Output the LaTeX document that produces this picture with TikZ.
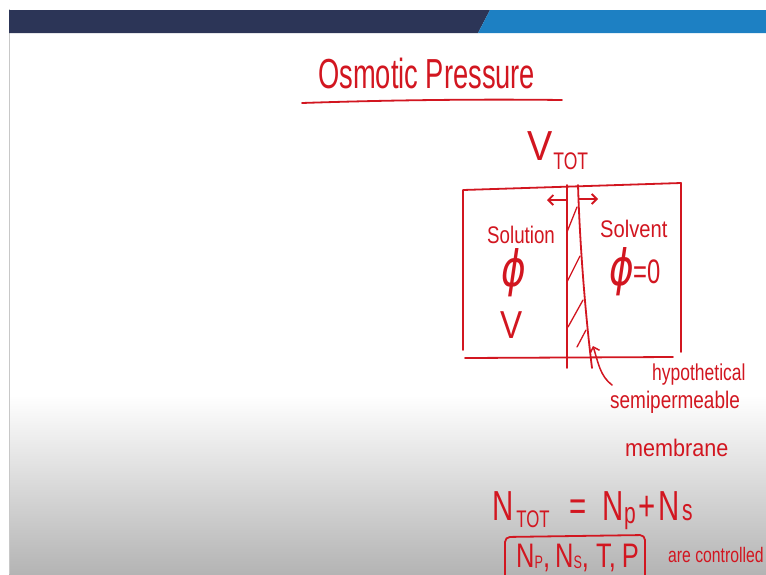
\documentclass[tikz,border=0pt]{standalone}
\usepackage{fontspec}
\setmainfont{Liberation Sans}
\newfontfamily\dvs{DejaVu Sans}
\usepackage{graphicx}
\usetikzlibrary{arrows.meta}
\definecolor{ink}{RGB}{210,22,32}
\definecolor{navy}{RGB}{44,53,87}
\definecolor{barblue}{RGB}{29,128,195}
\definecolor{shadegray}{RGB}{180,180,180}
\definecolor{edgegray}{RGB}{200,200,200}
\newcommand\hwtext[3]{\scalebox{#1}[1]{\fontsize{#2}{#2}\selectfont #3}}
\begin{document}
\begin{tikzpicture}[x=1pt,y=-1pt,
  pen/.style={draw=ink, line width=1.8pt, line cap=round, line join=round},
  lbl/.style={text=ink, inner sep=0pt, anchor=base west},
  barb/.style={-{Straight Barb[length=5pt,width=10pt]}}]
\useasboundingbox (0,0) rectangle (766,574);
\clip (0,0) rectangle (766,574);
% background
\fill[white] (0,0) rectangle (766,574);
\shade[top color=white, bottom color=shadegray] (9,395) rectangle (766,574);
\draw[edgegray, line width=1pt] (9,9) -- (9,574);
\fill[navy] (9,10) -- (490,10) -- (478,33) -- (9,33) -- cycle;
\fill[barblue] (490,10) -- (766,10) -- (766,33) -- (478,33) -- cycle;
% title
\node[lbl] (title) at (318,88) {\hwtext{.65}{42}{Osmotic Pressure}};
\coordinate (ulA) at (302,103);
\coordinate (ulB) at (562,100);
\draw[pen] (ulA) .. controls (390,100) and (480,99) .. (ulB);
% V_TOT
\node[lbl] (vtot) at (527,160) {\hwtext{.9}{42}{V}\hspace{1pt}\raisebox{-9pt}{\hwtext{.73}{24}{TOT}}};
% container
\coordinate (bTL) at (463,190);
\coordinate (bTR) at (681,183);
\coordinate (bBL) at (463,350);
\coordinate (bBR) at (681,352);
\coordinate (fL) at (465,358);
\coordinate (fR) at (673,357);
\draw[pen] (bBL) -- (bTL) -- (bTR) -- (bBR);
\draw[pen] (fL) -- (fR);
% membrane
\coordinate (mLt) at (567,185);
\coordinate (mLb) at (567,368);
\coordinate (mRt) at (578,185);
\coordinate (mRb) at (592,368);
\draw[pen] (mLt) -- (mLb);
\draw[pen] (mRt) .. controls (580,250) and (586,320) .. (mRb);
\draw[pen, line width=1.3pt] (567,232) -- (577,207);
\draw[pen, line width=1.3pt] (567,282) -- (580,256);
\draw[pen, line width=1.3pt] (568,327) -- (583,300);
\draw[pen, line width=1.3pt] (577,347) -- (586,330);
% arrows on membrane
\coordinate (aLs) at (566,200);
\coordinate (aLe) at (547,200);
\coordinate (aRs) at (579,199);
\coordinate (aRe) at (598,199);
\draw[pen, barb] (aLs) -- (aLe);
\draw[pen, barb] (aRs) -- (aRe);
% left compartment
\node[lbl] (solution) at (487,243) {\hwtext{.78}{24}{Solution}};
\node[lbl, anchor=center] (phiL) at (514,273) {\hwtext{.75}{50}{\dvs\itshape ϕ}};
\node[lbl] (vol) at (500,338) {\hwtext{.85}{39}{V}};
% right compartment
\node[lbl] (solvent) at (600,237) {\hwtext{.84}{24}{Solvent}};
\node[lbl, anchor=center] (phiR) at (622,272) {\hwtext{.75}{50}{\dvs\itshape ϕ}};
\node[lbl] (eqzero) at (633,283) {\hwtext{.7}{34}{=0}};
% pointer
\coordinate (ptail) at (612,385);
\coordinate (ptip) at (593,346);
\draw[pen, barb, line width=1.5pt] (ptail) .. controls (600,376) and (598,362) .. (ptip);
\node[lbl] (hyp) at (652,380) {\hwtext{.76}{23}{hypothetical}};
\node[lbl] (semi) at (610,408) {\hwtext{.79}{24}{semipermeable}};
\node[lbl] (memb) at (625,456) {\hwtext{.9}{24}{membrane}};
% equation
\node[lbl] (ntot) at (492,520) {\hwtext{.7}{42}{N}\hspace{3pt}\raisebox{-7pt}{\hwtext{.7}{24}{TOT}}\hspace{20pt}\hwtext{.7}{42}{=}\hspace{16pt}\hwtext{.7}{42}{N}\raisebox{-3pt}{\hwtext{.7}{30}{p}}\hspace{3pt}\hwtext{.7}{42}{+}\hspace{3pt}\hwtext{.7}{42}{N}\hspace{2pt}\hwtext{.7}{30}{s}};
% controlled box
\coordinate (cBL) at (505,595);
\coordinate (cTL) at (505,537);
\coordinate (cTR) at (645,535);
\coordinate (cBR) at (645,595);
\draw[pen, rounded corners=5pt] (cBL) -- (cTL) -- (cTR) -- (cBR);
\node[lbl] (ctrl) at (516,567) {\hwtext{.75}{34}{N}\raisebox{-1pt}{\hwtext{.7}{18}{P}}\hwtext{.75}{34}{,}\hspace{5pt}\hwtext{.75}{34}{N}\raisebox{-1pt}{\hwtext{.7}{18}{S}}\hwtext{.75}{34}{,}\hspace{7pt}\hwtext{.75}{34}{T,}\hspace{6pt}\hwtext{.75}{34}{P}};
\node[lbl] (arectl) at (668,562) {\hwtext{.75}{21}{are controlled}};
\end{tikzpicture}
\end{document}
